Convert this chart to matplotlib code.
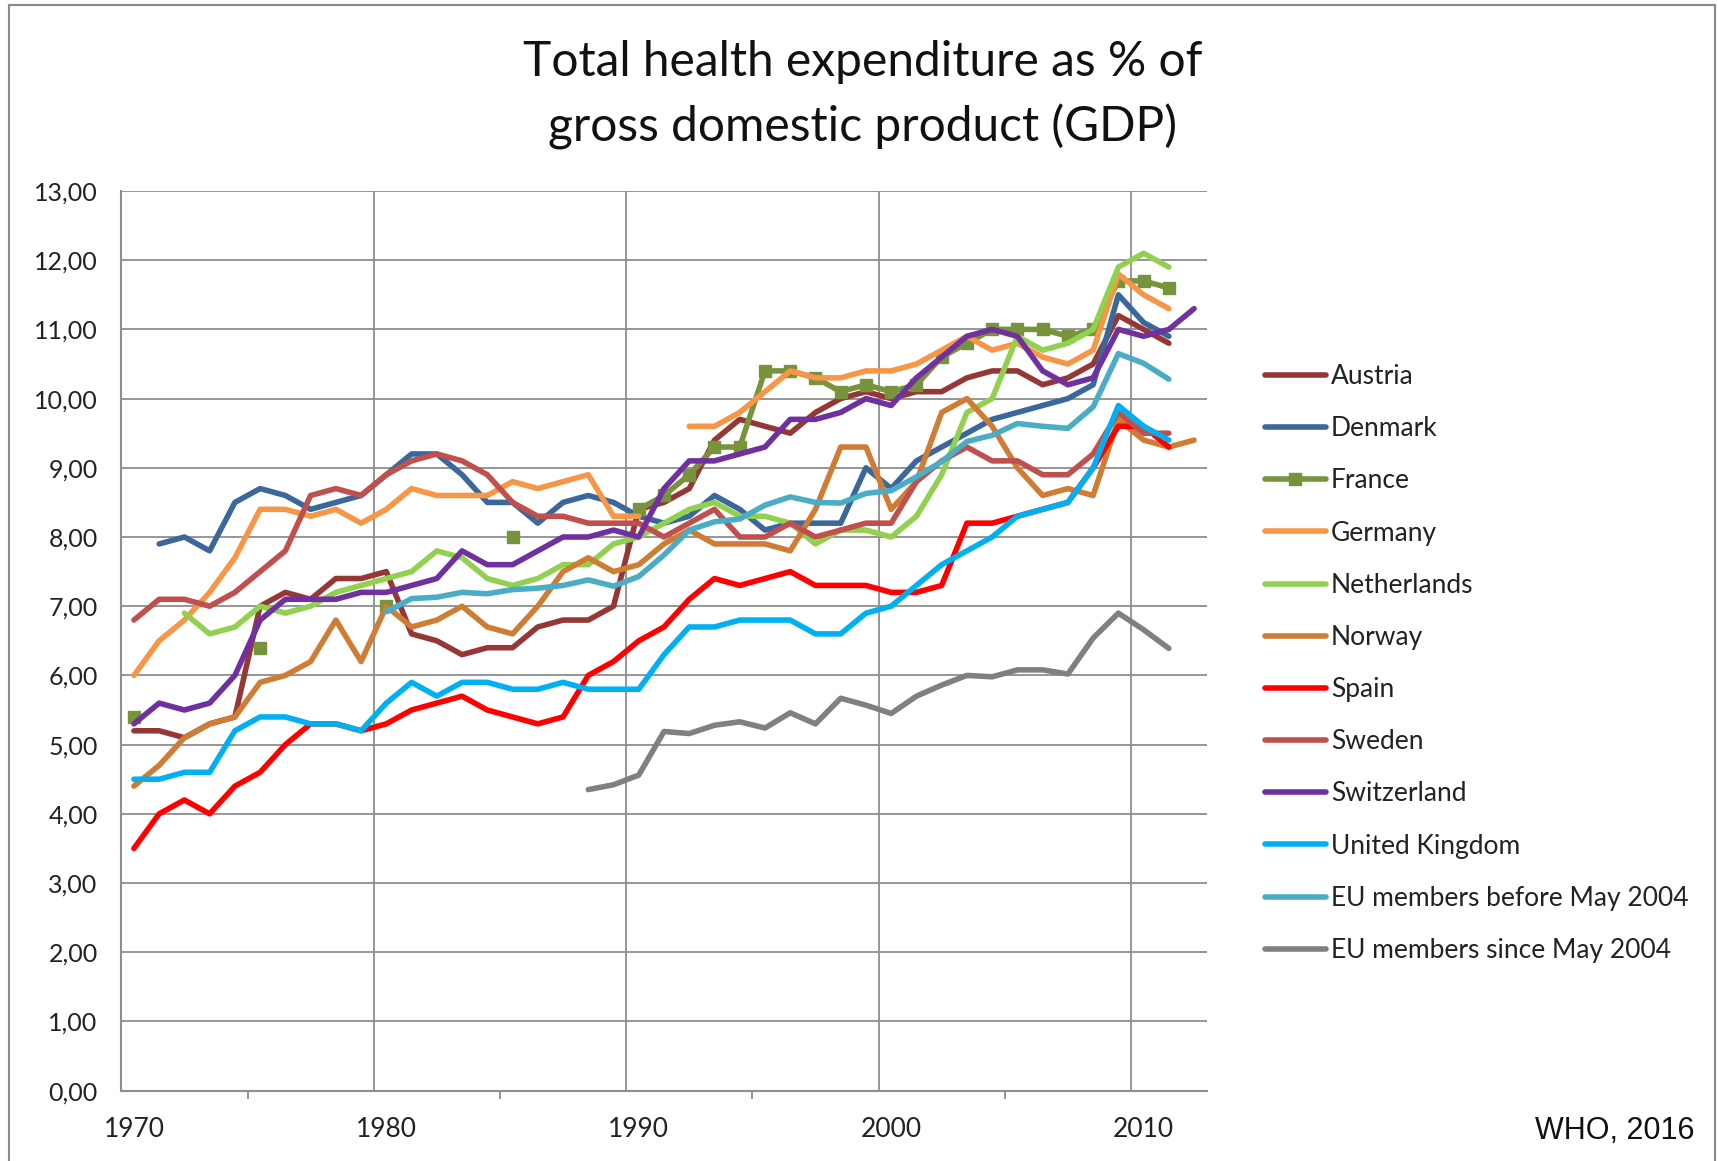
import numpy as np
import matplotlib
matplotlib.use('Agg')
from matplotlib import pyplot as plt
from matplotlib.ticker import FuncFormatter
from matplotlib.lines import Line2D

plt.rcParams['font.family'] = ['Lato', 'DejaVu Sans']

n = np.nan
years = list(range(1970, 2013))

# % of GDP (1970..2012)
austria = [5.2, 5.2, 5.1, 5.3, 5.4, 7.0, 7.2, 7.1, 7.4, 7.4,
           7.5, 6.6, 6.5, 6.3, 6.4, 6.4, 6.7, 6.8, 6.8, 7.0,
           8.4, 8.5, 8.7, 9.4, 9.7, 9.6, 9.5, 9.8, 10.0, 10.1,
           10.0, 10.1, 10.1, 10.3, 10.4, 10.4, 10.2, 10.3, 10.5, 11.2,
           11.0, 10.8, n]
denmark = [n, 7.9, 8.0, 7.8, 8.5, 8.7, 8.6, 8.4, 8.5, 8.6,
           8.9, 9.2, 9.2, 8.9, 8.5, 8.5, 8.2, 8.5, 8.6, 8.5,
           8.3, 8.2, 8.3, 8.6, 8.4, 8.1, 8.2, 8.2, 8.2, 9.0,
           8.7, 9.1, 9.3, 9.5, 9.7, 9.8, 9.9, 10.0, 10.2, 11.5,
           11.1, 10.9, n]
france = [5.4, n, n, n, n, 6.4, n, n, n, n,
          7.0, n, n, n, n, 8.0, n, n, n, n,
          8.4, 8.6, 8.9, 9.3, 9.3, 10.4, 10.4, 10.3, 10.1, 10.2,
          10.1, 10.2, 10.6, 10.8, 11.0, 11.0, 11.0, 10.9, 11.0, 11.7,
          11.7, 11.6, n]
germany = [6.0, 6.5, 6.8, 7.2, 7.7, 8.4, 8.4, 8.3, 8.4, 8.2,
           8.4, 8.7, 8.6, 8.6, 8.6, 8.8, 8.7, 8.8, 8.9, 8.3,
           8.3, n, 9.6, 9.6, 9.8, 10.1, 10.4, 10.3, 10.3, 10.4,
           10.4, 10.5, 10.7, 10.9, 10.7, 10.8, 10.6, 10.5, 10.7, 11.8,
           11.5, 11.3, n]
netherlands = [n, n, 6.9, 6.6, 6.7, 7.0, 6.9, 7.0, 7.2, 7.3,
               7.4, 7.5, 7.8, 7.7, 7.4, 7.3, 7.4, 7.6, 7.6, 7.9,
               8.0, 8.2, 8.4, 8.5, 8.3, 8.3, 8.2, 7.9, 8.1, 8.1,
               8.0, 8.3, 8.9, 9.8, 10.0, 10.9, 10.7, 10.8, 11.0, 11.9,
               12.1, 11.9, n]
norway = [4.4, 4.7, 5.1, 5.3, 5.4, 5.9, 6.0, 6.2, 6.8, 6.2,
          7.0, 6.7, 6.8, 7.0, 6.7, 6.6, 7.0, 7.5, 7.7, 7.5,
          7.6, 7.9, 8.1, 7.9, 7.9, 7.9, 7.8, 8.4, 9.3, 9.3,
          8.4, 8.8, 9.8, 10.0, 9.6, 9.0, 8.6, 8.7, 8.6, 9.7,
          9.4, 9.3, 9.4]
spain = [3.5, 4.0, 4.2, 4.0, 4.4, 4.6, 5.0, 5.3, 5.3, 5.2,
         5.3, 5.5, 5.6, 5.7, 5.5, 5.4, 5.3, 5.4, 6.0, 6.2,
         6.5, 6.7, 7.1, 7.4, 7.3, 7.4, 7.5, 7.3, 7.3, 7.3,
         7.2, 7.2, 7.3, 8.2, 8.2, 8.3, 8.4, 8.5, 9.0, 9.6,
         9.6, 9.3, n]
sweden = [6.8, 7.1, 7.1, 7.0, 7.2, 7.5, 7.8, 8.6, 8.7, 8.6,
          8.9, 9.1, 9.2, 9.1, 8.9, 8.5, 8.3, 8.3, 8.2, 8.2,
          8.2, 8.0, 8.2, 8.4, 8.0, 8.0, 8.2, 8.0, 8.1, 8.2,
          8.2, 8.8, 9.1, 9.3, 9.1, 9.1, 8.9, 8.9, 9.2, 9.8,
          9.5, 9.5, n]
switzerland = [5.3, 5.6, 5.5, 5.6, 6.0, 6.8, 7.1, 7.1, 7.1, 7.2,
               7.2, 7.3, 7.4, 7.8, 7.6, 7.6, 7.8, 8.0, 8.0, 8.1,
               8.0, 8.7, 9.1, 9.1, 9.2, 9.3, 9.7, 9.7, 9.8, 10.0,
               9.9, 10.3, 10.6, 10.9, 11.0, 10.9, 10.4, 10.2, 10.3, 11.0,
               10.9, 11.0, 11.3]
uk = [4.5, 4.5, 4.6, 4.6, 5.2, 5.4, 5.4, 5.3, 5.3, 5.2,
      5.6, 5.9, 5.7, 5.9, 5.9, 5.8, 5.8, 5.9, 5.8, 5.8,
      5.8, 6.3, 6.7, 6.7, 6.8, 6.8, 6.8, 6.6, 6.6, 6.9,
      7.0, 7.3, 7.6, 7.8, 8.0, 8.3, 8.4, 8.5, 9.0, 9.9,
      9.6, 9.4, n]
eu_before = [n, n, n, n, n, n, n, n, n, n,
             6.92, 7.11, 7.13, 7.2, 7.18, 7.24, 7.26, 7.3, 7.38, 7.29,
             7.43, 7.74, 8.1, 8.22, 8.26, 8.46, 8.58, 8.5, 8.49, 8.63,
             8.67, 8.87, 9.09, 9.38, 9.47, 9.64, 9.6, 9.57, 9.88, 10.65,
             10.51, 10.28, n]
eu_since = [n, n, n, n, n, n, n, n, n, n,
            n, n, n, n, n, n, n, n, 4.35, 4.42,
            4.56, 5.19, 5.16, 5.28, 5.33, 5.24, 5.46, 5.3, 5.67, 5.57,
            5.45, 5.7, 5.86, 6.0, 5.98, 6.08, 6.08, 6.02, 6.54, 6.9,
            6.66, 6.39, n]

names = ['Austria', 'Denmark', 'France', 'Germany', 'Netherlands', 'Norway',
         'Spain', 'Sweden', 'Switzerland', 'United Kingdom',
         'EU members before May 2004', 'EU members since May 2004']
series = [austria, denmark, france, germany, netherlands, norway,
          spain, sweden, switzerland, uk, eu_before, eu_since]
colors = ['#953735', '#3A679C', '#77933C', '#F79646', '#92D050', '#CF7C35',
          '#FF0000', '#C0504D', '#7030A0', '#00B0F0', '#4BACC6', '#808080']

grid_c = '#8E8E8E'

fig = plt.figure(figsize=(17.18, 11.61), dpi=100)
ax = fig.add_axes([0.0706, 0.0606, 0.6318, 0.7749])

for name, vals, c in zip(names, series, colors):
    if name == 'France':
        ax.plot(years, vals, color=c, lw=4, marker='s', markersize=8,
                label=name, solid_capstyle='round')
    else:
        ax.plot(years, vals, color=c, lw=4, label=name,
                solid_capstyle='round', solid_joinstyle='round')

ax.set_xlim(1969.5, 2012.5)
ax.set_ylim(0, 13)
ax.set_yticks(np.arange(0, 14, 1))
ax.yaxis.set_major_formatter(FuncFormatter(lambda v, p: ('%.2f' % v).replace('.', ',')))
ax.grid(axis='y', color=grid_c, lw=1.3)
for gx in [1979.5, 1989.5, 1999.5, 2009.5]:
    ax.axvline(gx, color=grid_c, lw=1.3, zorder=0.5)
ax.set_axisbelow(True)

ax.set_xticks([1970, 1980, 1990, 2000, 2010])
ax.set_xticks([1974.5, 1984.5, 1994.5, 2004.5], minor=True)
ax.tick_params(axis='x', which='major', length=0, pad=19, labelsize=19, labelcolor='#222222')
ax.tick_params(axis='x', which='minor', length=6, width=1.3, color=grid_c, direction='out')
ax.tick_params(axis='y', length=0, pad=17, labelsize=18, labelcolor='#222222')

for s in ['top', 'right']:
    ax.spines[s].set_visible(False)
for s in ['left', 'bottom']:
    ax.spines[s].set_color(grid_c)
    ax.spines[s].set_linewidth(1.5)

fig.text(0.502, 0.918, 'Total health expenditure as % of\ngross domestic product (GDP)',
         ha='center', va='center', fontsize=34.5, linespacing=1.52, color='#111111')

handles, labels = ax.get_legend_handles_labels()
fig.legend(handles, labels, loc='center left', bbox_to_anchor=(0.7363, 0.4285),
           frameon=False, fontsize=19, handlelength=2.3, handletextpad=0.2,
           labelspacing=1.03, borderpad=0, borderaxespad=0, labelcolor='#222222')

fig.text(0.9866, 1 - 1131 / 1161, 'WHO, 2016', ha='right', va='center',
         fontsize=22, family='Liberation Sans', color='#111111')

# outer frame like the slide
fr = '#8A8A8A'
fig.add_artist(Line2D([0.0052, 0.0052], [0, 0.9953], transform=fig.transFigure, color=fr, lw=1.5))
fig.add_artist(Line2D([0.0052, 0.9983], [0.9953, 0.9953], transform=fig.transFigure, color=fr, lw=1.5))
fig.add_artist(Line2D([0.9983, 0.9983], [0, 0.9953], transform=fig.transFigure, color=fr, lw=1.5))

fig.savefig('out.png', dpi=100)
